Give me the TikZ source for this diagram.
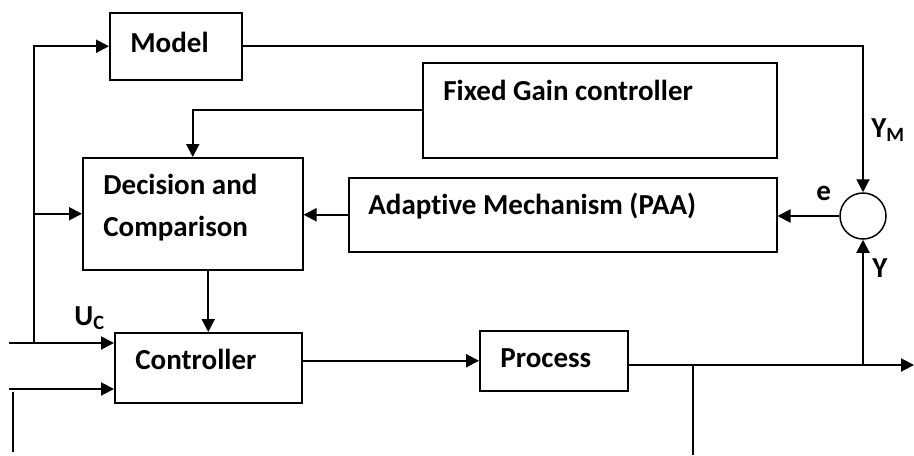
\documentclass[tikz,border=0pt]{standalone}
\usepackage{fontspec}
\setmainfont[Ligatures=NoCommon]{Carlito}
\usetikzlibrary{arrows.meta}
\begin{document}
\begin{tikzpicture}[x=0.5pt,y=-0.5pt,
  blk/.style={draw,line width=0.75pt,rectangle,inner sep=0pt,anchor=north west},
  txt/.style={inner sep=0pt,anchor=base west,font=\fontsize{14.5pt}{17pt}\selectfont\bfseries},
  wire/.style={line width=1pt},
  arr/.style={line width=1pt,-{Triangle[length=6.5pt,width=6.5pt]}}]
\useasboundingbox (0,0) rectangle (914,455);
% blocks
\node[blk,minimum width=66pt,minimum height=33.5pt] (model) at (109,12) {};
\node[blk,minimum width=177pt,minimum height=47.5pt] (fixed) at (422,62) {};
\node[blk,minimum width=110pt,minimum height=56pt] (dec) at (82,157) {};
\node[blk,minimum width=214pt,minimum height=37pt] (adapt) at (348,177) {};
\node[blk,minimum width=93.5pt,minimum height=35pt] (ctrl) at (114,332) {};
\node[blk,minimum width=74pt,minimum height=30pt] (proc) at (479,330) {};
\node[draw,line width=0.75pt,circle,inner sep=0pt,minimum size=23pt] (sum) at (863,216) {};
% texts
\node[txt] (tmodel) at (130,52) {Model};
\node[txt] (tfixed) at (443,100) {Fixed Gain controller};
\node[txt] (tdec1) at (103,194) {Decision and};
\node[txt] (tdec2) at (103,236) {Comparison};
\node[txt] (tadapt) at (368,214) {Adaptive Mechanism (PAA)};
\node[txt] (tctrl) at (135,369) {Controller};
\node[txt] (tproc) at (500,367) {Process};
\node[txt] (luc) at (74,325) {U\textsubscript{C}};
\node[txt] (lym) at (871,137) {Y\textsubscript{M}};
\node[txt] (le) at (816,200) {e};
\node[txt] (ly) at (872,277) {Y};
% coordinates
\coordinate (uc) at (9,343);
\coordinate (u2) at (9,389);
\coordinate (j1) at (34,343);
\coordinate (out) at (914,365);
\coordinate (jd) at (693,365);
\coordinate (bot) at (693,455);
\coordinate (l1) at (13,392);
\coordinate (l2) at (13,452);
% connectors
\draw[arr] (model.east) -| (sum.north);
\draw[arr] (fixed.west) -| (dec.north);
\draw[arr] (sum.west) -- (sum.west -| adapt.east);
\draw[arr] (adapt.west) -- (adapt.west -| dec.east);
\draw[arr] (dec.south -| ctrl.north) -- (ctrl.north);
\draw[arr] (uc) -- (uc -| ctrl.west);
\draw[arr] (u2) -- (u2 -| ctrl.west);
\draw[arr] (j1) |- (model.west);
\draw[arr] (j1 |- dec.west) -- (dec.west);
\draw[wire] (l1) -- (l2);
\draw[arr] (ctrl.east |- proc.west) -- (proc.west);
\draw[arr] (proc.east |- out) -- (out);
\draw[arr] (sum.south |- out) -- (sum.south);
\draw[wire] (jd) -- (bot);
\end{tikzpicture}
\end{document}
